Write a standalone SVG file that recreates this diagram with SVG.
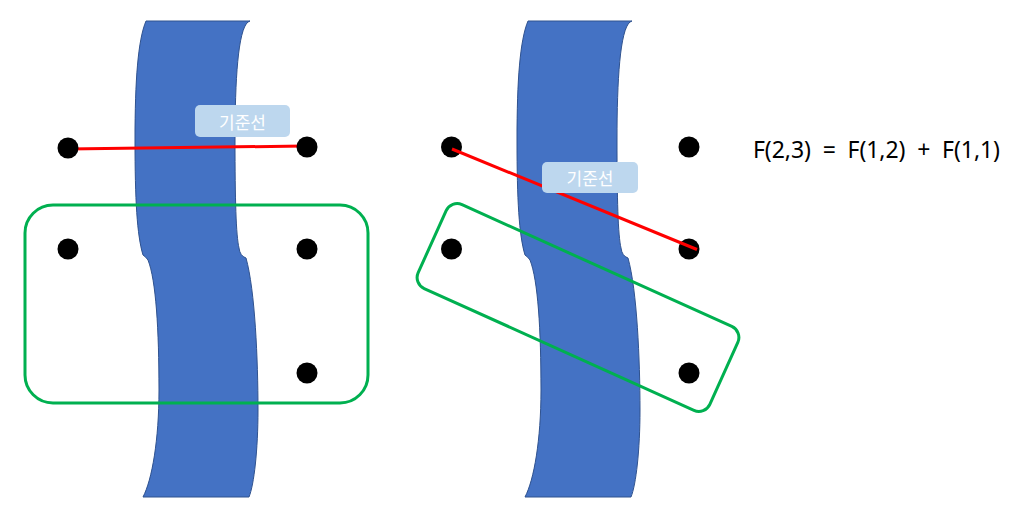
<svg xmlns="http://www.w3.org/2000/svg" width="1018" height="520" viewBox="0 0 1018 520">
  <style>
    .band { fill: #4472C4; stroke: #2F528F; stroke-width: 1; }
    .dot { fill: #000000; }
    .grp { fill: none; stroke: #00B050; stroke-width: 3; }
    .ref { stroke: #FF0000; stroke-width: 3; fill: none; }
    .lblbox { fill: #BDD7EE; }
    .lbl { fill: #FFFFFF; font-family: "Noto Sans CJK KR", "Noto Sans", sans-serif; font-size: 17px; text-anchor: middle; dominant-baseline: central; }
    .eq { fill: #000000; font-family: "Noto Sans", "Open Sans", sans-serif; font-size: 23px; }
  </style>
  <defs>
    <path id="bandShape" d="M 146,21 L 250,21 L 248,22 C 238,30 235,80 235,140 C 235,200 236,235 239,248 Q 240,256 246,258 C 255,290 258,360 258,410 C 258,450 254,485 249,497 L 143,497 C 152,480 159,440 159,390 C 159,330 156,280 148,260 Q 146,257 143,255 C 137,235 135,200 135,140 C 135,80 138,40 146,21 Z"/>
  </defs>
  <rect width="1018" height="520" fill="#FFFFFF"/>

  <g id="band-left"><use href="#bandShape" class="band"/></g>
  <g id="band-right"><use href="#bandShape" class="band" transform="translate(382,0)"/></g>

  <g id="group-left"><rect class="grp" x="25" y="205" width="343" height="198" rx="28" ry="28"/></g>
  <g id="group-right"><rect class="grp" x="418" y="261.5" width="320" height="92" rx="12" ry="12" transform="rotate(24.3 578 307.5)"/></g>

  <g id="connectors">
    <line class="ref" x1="68" y1="149" x2="304" y2="146"/>
  </g>

  <g id="dot-l1"><circle class="dot" cx="68" cy="148" r="10.5"/></g>
  <g id="dot-l2"><circle class="dot" cx="307" cy="147" r="10.5"/></g>
  <g id="dot-l3"><circle class="dot" cx="68" cy="249" r="10.5"/></g>
  <g id="dot-l4"><circle class="dot" cx="307" cy="249" r="10.5"/></g>
  <g id="dot-l5"><circle class="dot" cx="307" cy="373" r="10.5"/></g>

  <g id="dot-r1"><circle class="dot" cx="451.5" cy="147" r="10.5"/></g>
  <g id="dot-r2"><circle class="dot" cx="689" cy="147" r="10.5"/></g>
  <g id="dot-r3"><circle class="dot" cx="451.5" cy="249" r="10.5"/></g>
  <g id="dot-r4"><circle class="dot" cx="689" cy="249" r="10.5"/></g>
  <g id="dot-r5"><circle class="dot" cx="689" cy="373" r="10.5"/></g>

  <g id="connectors-right">
    <line class="ref" x1="452" y1="149" x2="697" y2="249.5"/>
  </g>

  <g id="label-left">
    <rect class="lblbox" x="195" y="105" width="95" height="32" rx="5" ry="5"/>
    <text class="lbl" x="242.5" y="121">기준선</text>
  </g>
  <g id="label-right">
    <rect class="lblbox" x="542" y="162" width="96" height="31" rx="5" ry="5"/>
    <text class="lbl" x="590" y="177.5">기준선</text>
  </g>

  <g id="formula">
    <text class="eq" x="753" y="158" xml:space="preserve" textLength="247" lengthAdjust="spacing">F(2,3)  =  F(1,2)  +  F(1,1)</text>
  </g>
</svg>
